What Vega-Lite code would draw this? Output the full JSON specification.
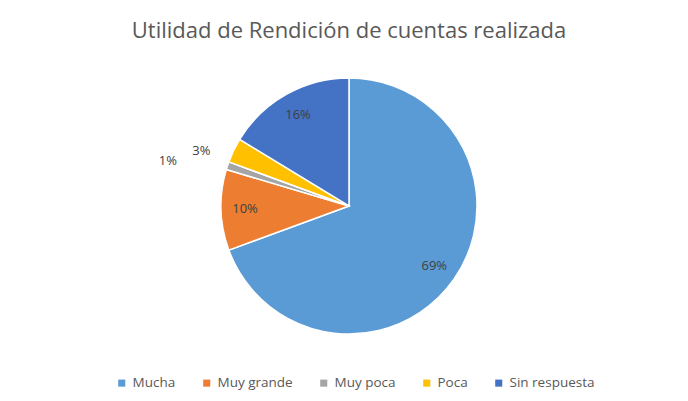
{
  "$schema": "https://vega.github.io/schema/vega-lite/v6.json",
  "width": 688,
  "height": 401,
  "autosize": {"type": "fit", "contains": "padding"},
  "padding": {"left": 10, "right": 0, "top": 20, "bottom": 44},
  "background": "white",
  "config": {"view": {"stroke": null}, "font": "Open Sans"},
  "title": {
    "text": "Utilidad de Rendición de cuentas realizada",
    "fontSize": 22,
    "fontWeight": "normal",
    "color": "#595959",
    "font": "Open Sans",
    "offset": 12
  },
  "data": {
    "values": [
      {"categoria": "Mucha", "valor": 69.4, "etiqueta": "69%", "orden": 1},
      {"categoria": "Muy grande", "valor": 10.2, "etiqueta": "10%", "orden": 2},
      {"categoria": "Muy poca", "valor": 1.0, "etiqueta": "1%", "orden": 3},
      {"categoria": "Poca", "valor": 3.1, "etiqueta": "3%", "orden": 4},
      {"categoria": "Sin respuesta", "valor": 16.3, "etiqueta": "16%", "orden": 5}
    ]
  },
  "encoding": {
    "theta": {"field": "valor", "type": "quantitative", "stack": true},
    "order": {"field": "orden", "type": "quantitative"},
    "color": {
      "field": "categoria",
      "type": "nominal",
      "scale": {
        "domain": ["Mucha", "Muy grande", "Muy poca", "Poca", "Sin respuesta"],
        "range": ["#5B9BD5", "#ED7D31", "#A5A5A5", "#FFC000", "#4472C4"]
      },
      "legend": {
        "title": null,
        "orient": "none",
        "legendX": 105,
        "legendY": 321,
        "direction": "horizontal",
        "symbolType": "square",
        "symbolSize": 50,
        "symbolStrokeWidth": 0,
        "labelFontSize": 13.5,
        "labelColor": "#595959",
        "labelFont": "Open Sans",
        "columnPadding": 24
      }
    }
  },
  "layer": [
    {
      "mark": {"type": "arc", "outerRadius": 128, "stroke": "white", "strokeWidth": 1.5}
    },
    {
      "mark": {"type": "text", "radius": 104, "fontSize": 13, "font": "Open Sans"},
      "encoding": {
        "text": {"field": "etiqueta"},
        "color": {"value": "#404040"},
        "opacity": {"condition": {"test": "datum.valor >= 5", "value": 1}, "value": 0}
      }
    },
    {
      "mark": {"type": "text", "radius": 155, "fontSize": 13, "font": "Open Sans", "dx": -8, "dy": 12},
      "encoding": {
        "text": {"field": "etiqueta"},
        "color": {"value": "#404040"},
        "opacity": {"condition": {"test": "datum.categoria == 'Poca'", "value": 1}, "value": 0}
      }
    },
    {
      "mark": {"type": "text", "radius": 155, "fontSize": 13, "font": "Open Sans", "dx": -34, "dy": 4},
      "encoding": {
        "text": {"field": "etiqueta"},
        "color": {"value": "#404040"},
        "opacity": {"condition": {"test": "datum.categoria == 'Muy poca'", "value": 1}, "value": 0}
      }
    }
  ]
}
